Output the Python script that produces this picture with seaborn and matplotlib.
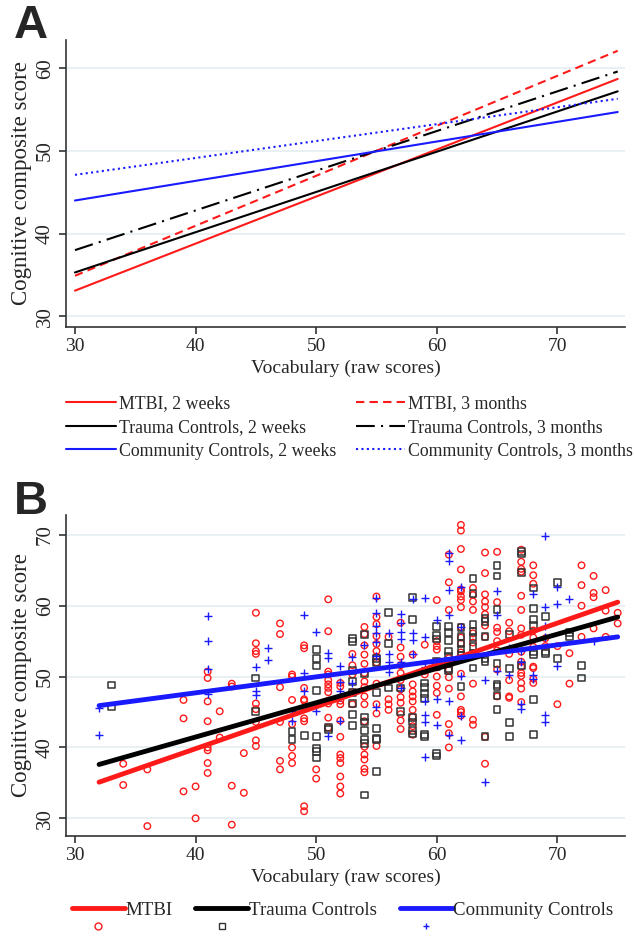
import pandas as pd
import seaborn as sns
import matplotlib.pyplot as plt
from matplotlib.lines import Line2D

# ---- Panel A: fitted lines, score at vocabulary 30 and 75 ----
line_x = [30, 75]
mtbi_2wk = [33.1, 58.7]
mtbi_3mo = [34.9, 62.1]
trauma_2wk = [35.3, 57.2]
trauma_3mo = [38.0, 59.6]
community_2wk = [44.0, 54.7]
community_3mo = [47.1, 56.3]

# ---- Panel B: fitted lines, score at vocabulary 32 and 75 ----
fit_x = [32, 75]
mtbi_fit = [35.1, 60.5]
trauma_fit = [37.6, 58.4]
community_fit = [45.9, 55.6]

# ---- Panel B: individual scores, vocabulary -> cognitive composite ----
mtbi_points = {
    34: [37.7, 34.7], 36: [36.9, 28.9], 39: [46.7, 44.1, 33.8], 40: [34.5, 30.0],
    41: [50.7, 49.8, 46.5, 43.7, 40.0, 39.6, 37.8, 36.4], 42: [45.1, 41.4],
    43: [49.0, 48.6, 34.6, 29.1], 44: [39.2, 33.6],
    45: [59.0, 54.7, 53.6, 53.2, 46.2, 45.4, 43.6, 41.0, 40.2],
    47: [57.5, 56.0, 48.5, 43.6, 38.1, 36.9],
    48: [50.3, 50.0, 46.7, 43.3, 40.0, 38.8, 37.8],
    49: [54.4, 54.0, 48.4, 46.8, 46.6, 44.1, 43.7, 31.7, 31.0],
    50: [36.9, 35.6],
    51: [60.9, 56.4, 50.7, 50.3, 49.5, 48.9, 48.4, 47.8, 46.6, 46.2, 44.2, 42.8],
    52: [49.1, 48.6, 46.6, 46.1, 43.8, 41.5, 39.0, 38.5, 37.8, 35.9, 34.5, 33.5],
    53: [53.2, 51.6, 50.3, 47.8, 46.1],
    54: [57.0, 56.0, 54.4, 53.1, 51.8, 50.5, 49.3, 48.5, 47.2, 46.1, 43.7, 40.1,
         39.0, 38.3, 37.0, 36.5],
    55: [61.3, 58.4, 57.4, 55.7, 54.6, 53.6, 52.8, 52.0, 49.0, 46.1, 44.8, 40.2],
    56: [55.6, 46.8, 46.1, 45.3],
    57: [57.6, 54.1, 52.8, 51.6, 50.5, 49.5, 48.2, 47.1, 46.3, 44.7, 43.8, 42.6],
    58: [53.1, 48.9, 47.9, 47.2, 46.5, 45.3, 44.3, 43.0, 41.8],
    59: [54.5, 50.8, 50.3],
    60: [60.8, 55.0, 54.3, 53.8, 52.1, 51.3, 50.0, 48.7, 47.7, 44.6],
    61: [67.2, 63.3, 59.4, 52.6, 50.9, 49.9, 48.3, 43.3, 42.0, 40.0],
    62: [71.4, 70.6, 68.0, 65.1, 62.3, 62.0, 61.3, 60.8, 59.8, 57.0, 55.5, 54.7,
         53.4, 50.4, 47.2, 45.3, 45.0, 44.5],
    63: [62.5, 61.5, 60.6, 59.4, 56.1, 54.8, 49.0, 43.9, 43.2],
    64: [67.5, 64.6, 61.6, 60.6, 59.8, 58.8, 57.2, 55.6, 41.5, 37.7],
    65: [67.6, 60.5, 56.9, 56.3, 55.0, 53.7, 51.0, 47.2],
    66: [57.6, 56.4, 53.2, 49.5, 47.2, 47.0],
    67: [67.9, 66.2, 65.2, 64.8, 61.4, 59.4, 56.8, 55.9, 53.5, 52.1, 51.4, 50.5,
         50.1, 49.1, 48.3, 46.4],
    68: [65.7, 64.3, 63.1, 56.5, 55.5, 54.2, 51.4, 51.2, 49.7, 49.1],
    69: [55.4, 54.3], 70: [54.3, 46.1], 71: [53.3, 49.0],
    72: [65.7, 62.9, 60.0, 55.6], 73: [64.2, 61.8, 61.2, 56.8],
    74: [62.2, 59.3, 55.6], 75: [59.0, 57.5],
}
trauma_points = {
    33: [48.8, 45.8], 45: [49.8, 45.1], 48: [42.3, 41.1], 49: [41.7],
    50: [53.8, 52.5, 51.5, 48.0, 41.6, 39.8, 39.4, 38.5], 51: [42.8, 42.5],
    53: [55.4, 54.9, 50.9, 49.3, 47.7, 46.2, 44.7, 43.1],
    54: [55.9, 50.4, 44.3, 43.6, 42.4, 41.1, 40.6, 33.3],
    55: [52.5, 52.0, 47.8, 42.7, 41.3, 41.1, 36.6],
    56: [59.0, 54.7, 48.4], 57: [48.4, 45.1],
    58: [61.2, 58.1, 44.2, 43.6, 42.4, 41.9],
    59: [49.1, 48.5, 47.6, 46.9, 41.8, 41.6],
    60: [57.1, 55.8, 55.3, 52.1, 51.4, 39.2, 38.8],
    61: [57.1, 56.2, 55.1, 53.6, 52.9, 51.1, 50.9],
    62: [56.9, 55.6, 54.7, 53.9, 53.0, 48.6],
    63: [63.8, 61.7, 57.3, 56.4, 55.5, 54.2, 53.2, 51.2],
    64: [58.2, 57.8, 55.6, 52.6, 52.1, 41.6],
    65: [65.7, 64.2, 59.5, 51.8, 48.9, 48.6, 47.3, 45.3],
    66: [55.9, 51.1, 43.5, 41.6], 67: [67.6, 67.3, 64.7, 51.6],
    68: [62.5, 59.6, 58.1, 57.2, 53.5, 53.1, 46.8, 41.8],
    69: [58.5, 53.5, 53.3], 70: [63.3, 52.6], 71: [56.2, 55.6], 72: [51.6, 49.8],
}
community_points = {
    32: [45.6, 41.8], 41: [58.6, 55.0, 51.0, 47.6], 45: [51.3, 47.9, 47.4],
    46: [54.1, 52.3], 48: [45.2, 43.7], 49: [58.7, 50.5, 48.0], 50: [56.3, 45.1],
    51: [53.3, 52.6, 41.6], 52: [51.5, 49.3, 48.0, 47.1, 43.8], 53: [52.8, 49.1],
    54: [54.5], 55: [61.1, 58.9, 57.2, 56.2, 54.9, 52.9, 45.7],
    56: [56.1, 53.2, 52.1, 50.6], 57: [58.8, 57.5, 56.3, 55.3, 52.0, 48.4],
    58: [61.0, 56.2, 55.1, 53.2], 59: [61.1, 55.6, 51.3, 46.6, 44.6, 43.6, 38.6],
    60: [58.0, 46.8, 43.2], 61: [67.5, 66.3, 62.2, 58.7, 46.6, 41.8],
    62: [62.6, 57.0, 50.1, 44.5, 41.1], 64: [49.5, 35.1], 65: [62.1, 58.7, 50.8],
    66: [54.0, 50.2], 67: [53.6, 52.1, 46.2, 45.4], 68: [61.6, 50.2, 49.7],
    69: [69.8, 59.8, 57.2, 55.6, 44.6, 43.6], 70: [62.7, 60.2, 51.5], 71: [61.0],
    73: [55.0],
}

RED = '#ff1a1a'
BLACK = '#000000'
BLUE = '#1a1aff'
GRID = '#e4eef2'


def to_frame(points):
    rows = [(x, y) for x, ys in points.items() for y in ys]
    return pd.DataFrame(rows, columns=['vocab', 'score'])


def style_axes(ax, yticks, xlim, ylim):
    ax.set_xlim(*xlim)
    ax.set_ylim(*ylim)
    ax.set_xticks([30, 40, 50, 60, 70])
    ax.set_yticks(yticks)
    ax.yaxis.grid(True, color=GRID, lw=1.2)
    ax.xaxis.grid(False)
    ax.set_axisbelow(True)
    sns.despine(ax=ax)
    for s in ['left', 'bottom']:
        ax.spines[s].set_color('#333333')
        ax.spines[s].set_linewidth(1.2)
    ax.tick_params(direction='out', length=5, width=1.2, color='#333333', pad=3)
    ax.tick_params(axis='x', labelsize=14)
    ax.tick_params(axis='y', labelsize=15)
    plt.setp(ax.get_yticklabels(), rotation=90, va='center')
    ax.set_xlabel('Vocabulary (raw scores)', fontsize=14, labelpad=3)
    ax.set_ylabel('Cognitive composite score', fontsize=16.5, labelpad=3)


sns.set_style('ticks')
plt.rcParams['font.family'] = ['Liberation Serif', 'DejaVu Serif']

fig = plt.figure(figsize=(6.34, 9.36), dpi=100)

# ---------------- Panel A ----------------
ax1 = fig.add_axes([0.104, 0.6506, 0.8817, 0.3066])
lines_a = [
    (mtbi_2wk, RED, '-', 'MTBI, 2 weeks'),
    (mtbi_3mo, RED, (0, (4, 2.5)), 'MTBI, 3 months'),
    (trauma_2wk, BLACK, '-', 'Trauma Controls, 2 weeks'),
    (trauma_3mo, BLACK, (0, (9, 3, 1, 3)), 'Trauma Controls, 3 months'),
    (community_2wk, BLUE, '-', 'Community Controls, 2 weeks'),
    (community_3mo, BLUE, (0, (1, 1.6)), 'Community Controls, 3 months'),
]
for ys, col, ls, lab in lines_a:
    sns.lineplot(x=line_x, y=ys, color=col, linestyle=ls, lw=1.5, ax=ax1)
style_axes(ax1, [30, 40, 50, 60], (29.25, 75.6), (28.7, 63.4))

handles_a = [Line2D([], [], color=c, linestyle=ls, lw=1.5) for _, c, ls, _ in lines_a]
labels_a = [lab for *_, lab in lines_a]
order = [0, 2, 4, 1, 3, 5]
fig.legend([handles_a[i] for i in order], [labels_a[i] for i in order],
           ncol=2, loc='upper left', bbox_to_anchor=(0.104, 0.578),
           frameon=False, fontsize=12.8, handlelength=2.8, handletextpad=0.17,
           columnspacing=1.1, labelspacing=0.38, borderpad=0, borderaxespad=0)

# ---------------- Panel B ----------------
ax2 = fig.add_axes([0.104, 0.1068, 0.8817, 0.343])
df_m = to_frame(mtbi_points)
df_t = to_frame(trauma_points)
df_c = to_frame(community_points)
sns.scatterplot(data=df_m, x='vocab', y='score', marker='o', s=22,
                facecolor='none', edgecolor=RED, linewidth=1.0, ax=ax2)
sns.scatterplot(data=df_t, x='vocab', y='score', marker='s', s=24,
                facecolor='none', edgecolor='#333333', linewidth=1.1, ax=ax2)
sns.scatterplot(data=df_c, x='vocab', y='score', marker='+', s=32,
                color=BLUE, linewidth=1.0, ax=ax2)

fits_b = [(mtbi_fit, RED, 'MTBI', 'o', '#ff1a1a'),
          (trauma_fit, BLACK, 'Trauma Controls', 's', '#333333'),
          (community_fit, BLUE, 'Community Controls', '+', BLUE)]
for ys, col, *_ in fits_b:
    sns.lineplot(x=fit_x, y=ys, color=col, lw=3.5, ax=ax2)
style_axes(ax2, [30, 40, 50, 60, 70], (29.25, 75.6), (27.5, 72.8))

handles_b, labels_b = [], []
for _, col, lab, mk, mcol in fits_b:
    handles_b.append(Line2D([], [], color=col, lw=3.5))
    labels_b.append(lab)
    handles_b.append(Line2D([], [], linestyle='none', marker=mk, markersize=5,
                            markerfacecolor='none', markeredgecolor=mcol,
                            markeredgewidth=1.0))
    labels_b.append('')
fig.legend(handles_b, labels_b, ncol=3, loc='upper left',
           bbox_to_anchor=(0.113, 0.0365), frameon=False, fontsize=13.6,
           handlelength=2.8, handletextpad=0.05, columnspacing=1.2,
           labelspacing=0.0, borderpad=0, borderaxespad=0)

# panel letters
fig.text(0.022, 0.996, 'A', fontsize=34, fontweight='bold', va='top',
         family=['Liberation Sans', 'DejaVu Sans'])
fig.text(0.022, 0.487, 'B', fontsize=34, fontweight='bold', va='top',
         family=['Liberation Sans', 'DejaVu Sans'])

fig.savefig('out.png', dpi=100)
